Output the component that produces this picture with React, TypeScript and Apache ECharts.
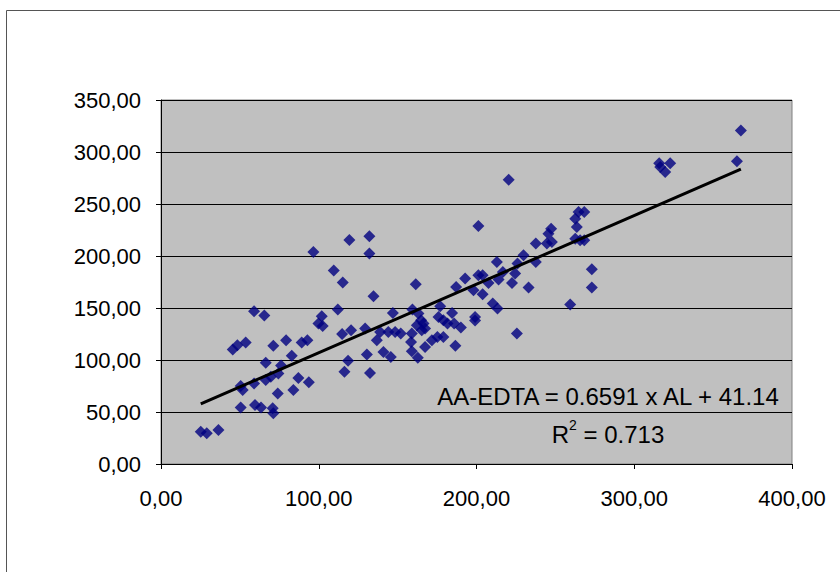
import React, { useEffect, useRef } from "react";
import * as echarts from "echarts";

const alValues = [
  25.2, 29.0, 36.4, 45.5, 48.4, 53.7, 59.0, 65.5, 50.5, 51.8,
  50.5, 59.0, 59.6, 63.4, 66.4, 66.4, 71.2, 70.8, 71.2, 69.6,
  74.4, 76.1, 74.0, 79.3, 82.9, 83.9, 87.1, 89.2, 92.8, 93.7,
  96.6, 99.8, 101.9, 102.5, 109.5, 112.1, 115.2, 119.4, 114.8, 120.5,
  118.6, 116.3, 129.4, 130.5, 132.5, 132.1, 132.1, 134.7, 136.8, 138.9,
  141.0, 144.1, 145.7, 147.0, 148.4, 152.0, 159.0, 158.5, 159.0, 161.5,
  159.4, 162.8, 163.2, 164.9, 162.2, 165.3, 167.4, 167.4, 171.7, 175.2,
  179.0, 175.9, 177.0, 179.0, 181.6, 184.5, 185.8, 186.6, 190.1, 187.1,
  192.8, 199.1, 199.1, 198.1, 201.2, 201.2, 166.4, 203.9, 203.9, 207.6,
  210.3, 213.3, 212.9, 214.0, 216.7, 220.4, 222.5, 224.5, 225.6, 226.0,
  229.8, 233.0, 237.6, 237.6, 244.6, 245.6, 247.3, 247.8, 259.4, 262.6,
  263.6, 262.6, 264.7, 268.3, 265.7, 268.3, 273.1, 273.1, 315.8, 316.5,
  319.6, 322.8, 365.1, 367.6,
];

const aaEdtaValues = [
  31.0, 29.5, 32.6, 110.1, 114.3, 116.9, 146.9, 142.8, 74.9, 71.1,
  54.4, 77.5, 56.7, 54.4, 97.3, 80.7, 113.6, 53.5, 48.7, 83.8,
  87.1, 94.8, 67.9, 119.1, 104.0, 71.1, 82.6, 116.9, 119.1, 78.7,
  203.9, 135.1, 142.1, 132.8, 186.0, 148.5, 174.5, 215.4, 125.1, 128.7,
  99.2, 88.6, 130.3, 105.3, 87.4, 218.9, 202.3, 161.3, 119.1, 127.0,
  107.8, 127.0, 103.0, 145.3, 127.0, 125.5, 125.5, 117.4, 108.5, 172.8,
  148.5, 102.1, 144.7, 138.3, 133.5, 128.7, 130.3, 112.6, 119.1, 122.2,
  122.2, 141.4, 151.7, 138.3, 135.1, 145.3, 135.1, 113.6, 131.3, 170.3,
  178.3, 141.4, 138.0, 167.1, 181.5, 228.8, 135.1, 181.5, 163.2, 174.1,
  154.3, 149.5, 194.3, 177.3, 184.7, 273.4, 174.1, 183.1, 125.5, 192.7,
  200.7, 169.7, 211.9, 194.3, 211.9, 221.5, 226.3, 213.4, 153.3, 235.9,
  227.9, 216.7, 242.3, 242.3, 215.1, 215.1, 187.2, 169.7, 289.3, 285.5,
  280.7, 289.3, 291.2, 320.7,
];

const trendSlope = 0.6591;
const trendIntercept = 41.14;
const equationLabel = "AA-EDTA = 0.6591 x AL + 41.14";
const r2Label = "0.713";

const FONT = "'Liberation Sans', Arial, sans-serif";
const fmt = (v: number) => v.toFixed(2).replace(".", ",");

export default function App() {
  const ref = useRef<HTMLDivElement>(null);
  useEffect(() => {
    if (!ref.current) return;
    const chart = echarts.init(ref.current, undefined, { renderer: "svg" });
    const points = alValues.map((x, i) => [x, aaEdtaValues[i]]);
    const xMin = Math.min(...alValues);
    const xMax = Math.max(...alValues);
    const trend = [
      [xMin, trendSlope * xMin + trendIntercept],
      [xMax, trendSlope * xMax + trendIntercept],
    ];
    chart.setOption({
      animation: false,
      backgroundColor: "#ffffff",
      grid: {
        left: 161,
        top: 100,
        width: 631,
        height: 364,
        show: true,
        backgroundColor: "#C0C0C0",
        borderColor: "#808080",
        borderWidth: 1,
      },
      xAxis: {
        type: "value",
        min: 0,
        max: 400,
        interval: 100,
        axisLine: { show: true, onZero: false, lineStyle: { color: "#000", width: 1 } },
        axisTick: { show: true, inside: false, length: 5, lineStyle: { color: "#000" } },
        splitLine: { show: false },
        axisLabel: {
          margin: 23,
          color: "#000",
          fontFamily: FONT,
          fontSize: 22,
          formatter: fmt,
        },
      },
      yAxis: {
        type: "value",
        min: 0,
        max: 350,
        interval: 50,
        axisLine: { show: true, onZero: false, lineStyle: { color: "#000", width: 1 } },
        axisTick: { show: true, inside: false, length: 5, lineStyle: { color: "#000" } },
        splitLine: { show: true, lineStyle: { color: "#000", width: 1 } },
        axisLabel: {
          margin: 20,
          color: "#000",
          fontFamily: FONT,
          fontSize: 22,
          formatter: fmt,
        },
      },
      graphic: [
        {
          type: "rect",
          silent: true,
          shape: { x: 6.5, y: 10.5, width: 900, height: 700 },
          style: { fill: "none", stroke: "#555", lineWidth: 1 },
          z: 100,
        },
        {
          type: "text",
          x: 608,
          y: 396,
          z: 100,
          style: {
            text: equationLabel,
            font: `24px ${FONT}`,
            fill: "#000",
            align: "center",
            verticalAlign: "middle",
          },
        },
        {
          type: "text",
          x: 608,
          y: 432,
          z: 100,
          style: {
            text: `{r|R}{s|2}{r| = ${r2Label}}`,
            fill: "#000",
            align: "center",
            verticalAlign: "middle",
            rich: {
              r: { fontSize: 24, fontFamily: FONT, lineHeight: 28, verticalAlign: "bottom" },
              s: { fontSize: 14, fontFamily: FONT, lineHeight: 28, verticalAlign: "top", padding: [0, 0, 12, 0] },
            },
          },
        },
      ],
      series: [
        {
          type: "scatter",
          data: points,
          symbol: "diamond",
          symbolSize: 12,
          itemStyle: { color: "#000080" },
          z: 2,
        },
        {
          type: "line",
          data: trend,
          showSymbol: false,
          symbol: "none",
          lineStyle: { color: "#000", width: 3 },
          z: 3,
        },
      ],
    });
    return () => chart.dispose();
  }, []);
  return (
    <div
      ref={ref}
      style={{ position: "absolute", left: 0, top: 0, width: 840, height: 572 }}
    />
  );
}
